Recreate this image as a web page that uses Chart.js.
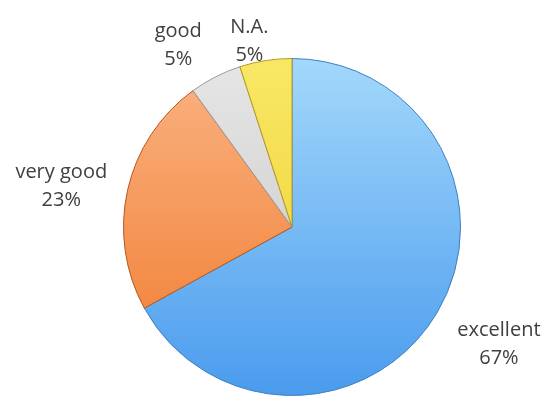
<!DOCTYPE html>
<html>
<head>
<meta charset="utf-8">
<script src="https://cdn.jsdelivr.net/npm/chart.js@4"></script>
<style>
  html, body { margin: 0; padding: 0; background: #ffffff; }
  #wrap { width: 544px; height: 401px; position: relative; }
</style>
</head>
<body>
<div id="wrap"><canvas id="myChart"></canvas></div>
<script>
// Datos del gráfico
const categorias = ["excellent", "very good", "good", "N.A."];
const porcentajes = [67, 23, 5, 5];

// Colores de cada porción (claro arriba, oscuro abajo)
const coloresClaros = ["#a3d8fb", "#fbb384", "#e6e6e6", "#f8e866"];
const coloresOscuros = ["#4a9bee", "#ef7a2c", "#c4c4c4", "#efcb2a"];
const bordes = ["#3f7fc0", "#b8561c", "#9a9a9a", "#b89a1a"];

// Ajuste fino de la posición de cada etiqueta (px)
const ajusteEtiquetas = [[8, 8], [-1, 6], [-17, 9], [-10, 26]];

// Gradiente vertical para cada porción
function gradiente(context) {
    const chart = context.chart;
    const area = chart.chartArea;
    if (!area) return coloresOscuros[context.dataIndex];
    const g = chart.ctx.createLinearGradient(0, area.top, 0, area.bottom);
    g.addColorStop(0, coloresClaros[context.dataIndex]);
    g.addColorStop(1, coloresOscuros[context.dataIndex]);
    return g;
}

// Plugin para dibujar las etiquetas fuera del pie
const etiquetasPlugin = {
    id: "etiquetas",
    afterDraw(chart) {
        const ctx = chart.ctx;
        const meta = chart.getDatasetMeta(0);
        ctx.save();
        ctx.font = "20px 'Open Sans'";
        ctx.fillStyle = "#404040";
        ctx.textAlign = "center";
        ctx.textBaseline = "middle";
        meta.data.forEach((arc, i) => {
            const mid = (arc.startAngle + arc.endAngle) / 2;
            const dx = Math.cos(mid);
            const dy = Math.sin(mid);
            const r = arc.outerRadius + 21;
            const linea1 = categorias[i];
            const linea2 = porcentajes[i] + "%";
            const w = Math.max(ctx.measureText(linea1).width, ctx.measureText(linea2).width);
            const h = 50;
            const cx = arc.x + dx * r + dx * w / 2 + ajusteEtiquetas[i][0];
            const cy = arc.y + dy * r + dy * h / 2 + ajusteEtiquetas[i][1];
            ctx.fillText(linea1, cx, cy - 14);
            ctx.fillText(linea2, cx, cy + 14);
        });
        ctx.restore();
    }
};

const config = {
    type: "pie",
    data: {
        labels: categorias,
        datasets: [
            {
                data: porcentajes,
                backgroundColor: gradiente,
                borderColor: bordes,
                borderWidth: 1,
            }
        ]
    },
    options: {
        responsive: true,
        maintainAspectRatio: false,
        animation: false,
        layout: {
            padding: {
                top: 58,
                bottom: 5,
                left: 123,
                right: 83,
            }
        },
        plugins: {
            legend: { display: false },
            tooltip: { enabled: false },
        }
    },
    plugins: [etiquetasPlugin]
};

new Chart(document.getElementById("myChart"), config);
</script>
</body>
</html>
